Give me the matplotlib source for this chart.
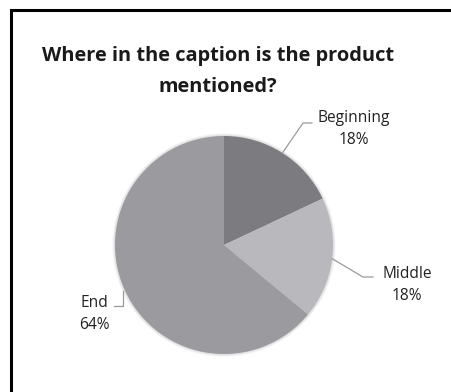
import numpy as np
import matplotlib.pyplot as plt

categories = ["Beginning", "Middle", "End"]
shares = [18, 18, 64]
colors = ["#7b7b80", "#b9b9bd", "#9a9a9f"]

W, H = 452, 392
cx, cy, R = 224, 245, 109  # pie centre and radius in pixels

fig = plt.figure(figsize=(W / 100, H / 100), dpi=100)
fig.patch.set_facecolor("white")

# outer frame (runs off the right and bottom edge)
frame = plt.Rectangle((11 / W, -0.05), 1.2, 1 - 10 / H + 0.05, transform=fig.transFigure,
                      fill=False, edgecolor="black", linewidth=2.2)
fig.add_artist(frame)

ax = fig.add_axes([(cx - R) / W, (H - cy - R) / H, 2 * R / W, 2 * R / H])

wedges, _ = ax.pie(shares, colors=colors, startangle=90, counterclock=False,
                   radius=1.0, wedgeprops=dict(linewidth=0))
ax.set_xlim(-1, 1)
ax.set_ylim(-1, 1)
ax.set_aspect("equal")
ax.axis("off")

# soft edge around the pie
for k in range(4):
    ax.add_patch(plt.Circle((0.0, 0.0), 1.0 + 0.006 * (k + 1), color="#8e8e93",
                            alpha=0.08, lw=0, zorder=0, clip_on=False))

font = ["Open Sans", "DejaVu Sans"]
fig.text(0.482, 1 - 56 / H, "Where in the caption is the product", ha="center", va="center",
         fontsize=14.4, fontweight="bold", family=font, color="#1a1a1a")
fig.text(0.482, 1 - 87 / H, "mentioned?", ha="center", va="center",
         fontsize=14.4, fontweight="bold", family=font, color="#1a1a1a")

# leader line elbows and label centres (pixel offsets from centre)
elbows = [((303, 123), (312, 123)), ((363, 277), (373, 277)), ((123, 306), (114, 306))]
label_pos = [(354, 129), (407, 285), (94, 314)]

for w, name, val, (e1, e2), (lx, ly) in zip(wedges, categories, shares, elbows, label_pos):
    mid = np.deg2rad((w.theta1 + w.theta2) / 2)
    sx, sy = np.cos(mid), np.sin(mid)
    if name == "End":
        sx = (e1[0] - cx) / R
    pts = [(sx, sy), ((e1[0] - cx) / R, (cy - e1[1]) / R), ((e2[0] - cx) / R, (cy - e2[1]) / R)]
    xs, ys = zip(*pts)
    ax.plot(xs, ys, color="#9a9a9a", lw=0.9, clip_on=False, zorder=3)
    ax.text((lx - cx) / R, (cy - ly) / R, f"{name}\n{val}%", ha="center", va="center",
            fontsize=11.2, family=font, color="#222222", linespacing=1.55, clip_on=False)

fig.savefig("out.png", dpi=100)
